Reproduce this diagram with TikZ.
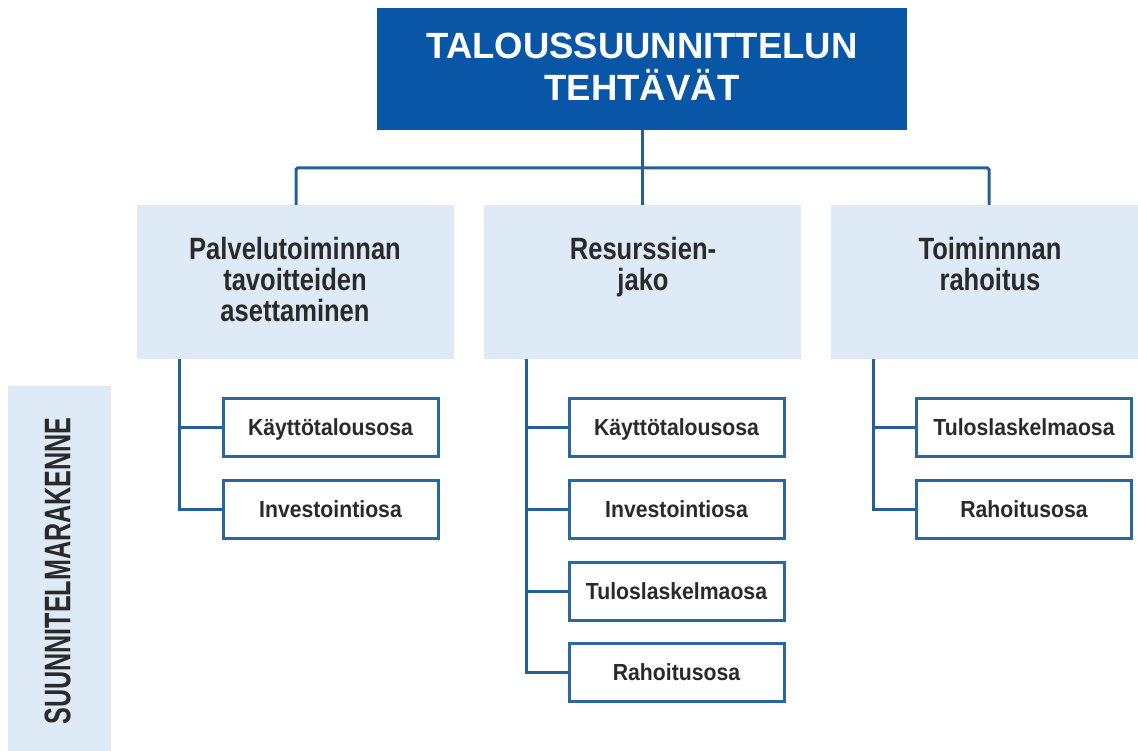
\documentclass[tikz,border=0pt]{standalone}
\usepackage{fontspec}
\setmainfont{Liberation Sans}
\newfontfamily\midfont[FakeStretch=0.83]{Liberation Sans}
\newfontfamily\smallfont[FakeStretch=0.91]{Liberation Sans}
\newfontfamily\sidefont[FakeStretch=0.68]{Liberation Sans}
\definecolor{topblue}{HTML}{0A56A6}
\definecolor{paleblue}{HTML}{DEEBF6}
\definecolor{linkblue}{HTML}{23609B}
\definecolor{boxline}{HTML}{2A66A0}
\definecolor{ink}{HTML}{2A2A2A}
\tikzset{
  topbox/.style={fill=topblue, draw=none, minimum width=530pt, minimum height=122pt, inner sep=0pt},
  toptext/.style={text=white, font=\bfseries\fontsize{36.5}{42}\selectfont, align=center, inner sep=0pt, anchor=north},
  midbox/.style={fill=paleblue, draw=none, minimum width=317pt, minimum height=154pt, inner sep=0pt},
  midtext/.style={text=ink, font=\midfont\bfseries\fontsize{30.8}{30.8}\selectfont, align=center, inner sep=0pt, anchor=north},
  partbox/.style={fill=white, draw=boxline, line width=3pt, minimum width=215pt, minimum height=58pt, inner sep=0pt,
    text=ink, font=\smallfont\bfseries\fontsize{23.3}{26}\selectfont, text height=16.7pt, text depth=0pt},
  sidebox/.style={fill=paleblue, draw=none, minimum width=103pt, minimum height=380pt, inner sep=0pt},
  sidetext/.style={text=ink, font=\sidefont\bfseries\fontsize{37}{40}\selectfont, rotate=90, inner sep=0pt,
    text height=26.5pt, text depth=0pt},
  link/.style={draw=linkblue, line width=3pt}
}
\begin{document}
\begin{tikzpicture}[x=1pt, y=-1pt]
\useasboundingbox (0,0) rectangle (1138,751);

% title
\node[topbox] (top) at (642,69) {};
\node[toptext] (toplabel) at (642,32.5) {TALOUSSUUNNITTELUN\\TEHTÄVÄT};

% three tasks
\node[midbox] (m1) at (295,282) {};
\node[midbox] (m2) at (642.5,282) {};
\node[midbox] (m3) at (989.5,282) {};
\node[midtext] (m1label) at (295,237) {Palvelutoiminnan\\tavoitteiden\\asettaminen};
\node[midtext] (m2label) at (643,237) {Resurssien-\\jako};
\node[midtext] (m3label) at (990,237) {Toiminnnan\\rahoitus};

% side label
\node[sidebox] (side) at (59.5,576) {};
\node[sidetext] (sidelabel) at (57,571) {SUUNNITELMARAKENNE};

% plan parts
\node[partbox] (a1) at (330.5,427) {Käyttötalousosa};
\node[partbox] (a2) at (330.5,509) {Investointiosa};

\node[partbox] (b1) at (676.5,427) {Käyttötalousosa};
\node[partbox] (b2) at (676.5,509) {Investointiosa};
\node[partbox] (b3) at (676.5,591) {Tuloslaskelmaosa};
\node[partbox] (b4) at (676.5,672) {Rahoitusosa};

\node[partbox] (c1) at (1024,427) {Tuloslaskelmaosa};
\node[partbox] (c2) at (1024,509) {Rahoitusosa};

% tree from the title
\draw[link] (top.south) -- (top.south |- m2.north);
\coordinate (j1) at (296,168);
\coordinate (j3) at (989,168);
\draw[link, rounded corners=1.5pt] (j1 |- m1.north) -- (j1) -- (j3) -- (j3 |- m3.north);

% branches to the plan parts
\coordinate (t1) at (179,359);
\coordinate (t2) at (526,359);
\coordinate (t3) at (873,359);
\draw[link] (t1) |- (a1.west);
\draw[link] (t1) |- (a2.west);
\draw[link] (t2) |- (b1.west);
\draw[link] (t2) |- (b2.west);
\draw[link] (t2) |- (b3.west);
\draw[link] (t2) |- (b4.west);
\draw[link] (t3) |- (c1.west);
\draw[link] (t3) |- (c2.west);
\end{tikzpicture}
\end{document}
